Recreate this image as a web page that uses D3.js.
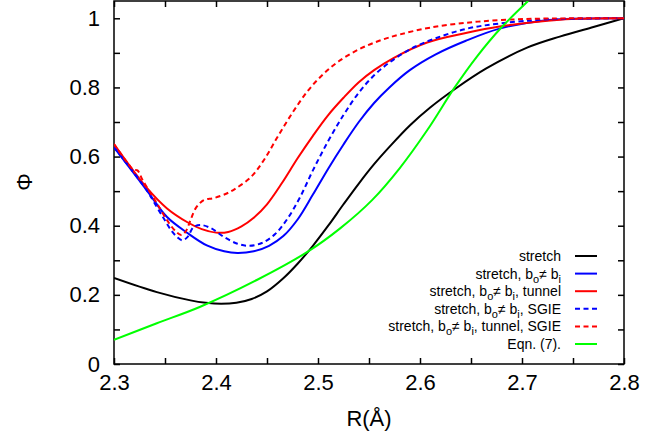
<!DOCTYPE html>
<html>
<head>
<meta charset="utf-8">
<script src="https://cdn.jsdelivr.net/npm/d3@7"></script>
<style>
body { margin: 0; background: #fff; }
svg { font-family: "Liberation Sans", Arial, sans-serif; }
.axis text { font-size: 22px; fill: #000; }
.axis line, .axis path { stroke: #000; stroke-width: 1.5; }
.curve { fill: none; stroke-width: 2; }
.legend text { font-size: 14px; fill: #000; }
</style>
</head>
<body>
<div id="chart"></div>
<script>
// curves: [R, Phi]
var stretch = [[2.30,0.249],[2.342,0.208],[2.375,0.184],[2.39,0.177],[2.405,0.174],[2.42,0.177],
    [2.435,0.188],[2.45,0.21],[2.466,0.248],[2.48,0.29],[2.495,0.342],[2.51,0.40],[2.525,0.462],
    [2.54,0.522],[2.555,0.578],[2.57,0.628],[2.59,0.69],[2.61,0.742],[2.635,0.797],[2.665,0.855],
    [2.705,0.915],[2.737,0.947],[2.77,0.975],[2.8,1.0]];
var stretchB = [[2.30,0.627],[2.332,0.503],[2.352,0.425],[2.372,0.379],[2.391,0.343],[2.408,0.326],
    [2.421,0.321],[2.437,0.326],[2.452,0.342],[2.466,0.37],[2.48,0.418],[2.495,0.49],[2.51,0.565],
    [2.525,0.635],[2.54,0.70],[2.555,0.755],[2.57,0.80],[2.59,0.85],[2.615,0.895],[2.645,0.935],
    [2.678,0.97],[2.72,0.993],[2.76,0.999],[2.8,1.0]];
var stretchBTunnel = [[2.30,0.636],[2.332,0.51],[2.352,0.45],[2.372,0.41],[2.386,0.39],[2.40,0.38],
    [2.412,0.382],[2.425,0.398],[2.437,0.423],[2.45,0.462],[2.465,0.525],[2.48,0.595],[2.495,0.66],
    [2.51,0.72],[2.525,0.77],[2.54,0.815],[2.555,0.85],[2.574,0.885],[2.607,0.93],[2.646,0.958],
    [2.678,0.976],[2.737,0.996],[2.8,1.0]];
var stretchBSgie = [[2.30,0.627],[2.332,0.503],[2.342,0.454],[2.349,0.42],[2.356,0.387],[2.362,0.367],
    [2.367,0.358],[2.372,0.367],[2.378,0.396],[2.385,0.402],[2.395,0.393],[2.408,0.367],[2.421,0.348],
    [2.432,0.342],[2.445,0.35],[2.458,0.376],[2.47,0.42],[2.482,0.48],[2.495,0.56],[2.51,0.645],
    [2.525,0.72],[2.54,0.785],[2.555,0.835],[2.57,0.872],[2.59,0.91],[2.615,0.942],[2.646,0.97],
    [2.678,0.985],[2.727,0.997],[2.8,1.0]];
var stretchBTunnelSgie = [[2.30,0.636],[2.315,0.575],[2.319,0.562],[2.323,0.56],[2.328,0.532],
    [2.342,0.465],[2.352,0.416],[2.361,0.382],[2.366,0.373],[2.37,0.382],[2.375,0.416],[2.38,0.45],
    [2.388,0.474],[2.398,0.48],[2.411,0.494],[2.42,0.509],[2.434,0.54],[2.447,0.59],[2.46,0.655],
    [2.475,0.727],[2.49,0.79],[2.505,0.838],[2.52,0.875],[2.54,0.91],[2.56,0.935],[2.58,0.953],
    [2.61,0.973],[2.645,0.987],[2.68,0.995],[2.72,0.999],[2.8,1.0]];
var eqn7 = [[2.30,0.07],[2.342,0.118],[2.384,0.165],[2.44,0.243],[2.49,0.325],[2.522,0.393],
    [2.553,0.474],[2.58,0.566],[2.607,0.676],[2.634,0.80],[2.656,0.89],[2.68,0.974],[2.706,1.05]];

var labels = ["stretch", "stretch, b_o≠ b_i", "stretch, b_o≠ b_i, tunnel",
    "stretch, b_o≠ b_i, SGIE", "stretch, b_o≠ b_i, tunnel, SGIE", "Eqn. (7)."];
var colors = ["#000000", "#0000ff", "#ff0000", "#0000ff", "#ff0000", "#00ff00"];
var dashed = [false, false, false, true, true, false];
var series = [stretch, stretchB, stretchBTunnel, stretchBSgie, stretchBTunnelSgie, eqn7];

var xTicks = [2.3, 2.35, 2.4, 2.45, 2.5, 2.55, 2.6, 2.65, 2.7, 2.75, 2.8];
var yTicks = [0, 0.1, 0.2, 0.3, 0.4, 0.5, 0.6, 0.7, 0.8, 0.9, 1.0];

var width = 646, height = 435;
var plotLeft = 114, plotRight = 624, plotTop = 1, plotBottom = 364;

var svg = d3.select("#chart").append("svg")
    .attr("width", width)
    .attr("height", height);

var xScale = d3.scaleLinear().domain([2.3, 2.8]).range([plotLeft, plotRight]);
var yScale = d3.scaleLinear().domain([0, 1.05]).range([plotBottom, plotTop]);

svg.append("defs").append("clipPath").attr("id", "clip")
    .append("rect")
    .attr("x", plotLeft).attr("y", plotTop)
    .attr("width", plotRight - plotLeft).attr("height", plotBottom - plotTop);

// axes, ticks pointing inwards on all four sides
var fmtX = function(d) { return Math.round(d * 100) % 10 === 0 ? d3.format(".1f")(d) : ""; };
var fmtY = function(d) {
    var k = Math.round(d * 10);
    if (k % 2 !== 0) return "";
    return k === 0 ? "0" : k === 10 ? "1" : d3.format(".1f")(d);
};

svg.append("g").attr("class", "axis")
    .attr("transform", "translate(0," + plotBottom + ")")
    .call(d3.axisBottom(xScale).tickValues(xTicks).tickFormat(fmtX).tickSize(-6).tickSizeOuter(0).tickPadding(10));
svg.append("g").attr("class", "axis")
    .attr("transform", "translate(0," + plotTop + ")")
    .call(d3.axisTop(xScale).tickValues(xTicks).tickFormat("").tickSize(-6).tickSizeOuter(0));
svg.append("g").attr("class", "axis")
    .attr("transform", "translate(" + plotLeft + ",0)")
    .call(d3.axisLeft(yScale).tickValues(yTicks).tickFormat(fmtY).tickSize(-6).tickSizeOuter(0).tickPadding(14));
svg.append("g").attr("class", "axis")
    .attr("transform", "translate(" + plotRight + ",0)")
    .call(d3.axisRight(yScale).tickValues(yTicks).tickFormat("").tickSize(-6).tickSizeOuter(0));

svg.selectAll(".axis .domain").remove();
svg.append("rect")
    .attr("x", plotLeft).attr("y", plotTop)
    .attr("width", plotRight - plotLeft).attr("height", plotBottom - plotTop)
    .attr("fill", "none").attr("stroke", "#000").attr("stroke-width", 1.5);

var line = d3.line()
    .x(function(d) { return xScale(d[0]); })
    .y(function(d) { return yScale(d[1]); })
    .curve(d3.curveCatmullRom.alpha(0.5));

svg.append("g").attr("clip-path", "url(#clip)")
    .selectAll("path")
    .data(series)
    .enter().append("path")
    .attr("class", "curve")
    .attr("d", line)
    .attr("stroke", function(d, i) { return colors[i]; })
    .attr("stroke-dasharray", function(d, i) { return dashed[i] ? "5,3.5" : null; });

// legend, subscripts as lowered tspans
var legend = svg.append("g").attr("class", "legend");
labels.forEach(function(lab, i) {
    var yy = 256 + i * 17.6;
    var t = legend.append("text")
        .attr("x", 561).attr("y", yy + 5)
        .attr("text-anchor", "end");
    var parts = lab.split(/(_[oi])/);
    var shift = 0;
    parts.forEach(function(p) {
        if (p === "") return;
        if (p.charAt(0) === "_") {
            t.append("tspan").attr("dy", 4 - shift).attr("font-size", "11px").text(p.charAt(1));
            shift = 4;
        } else {
            t.append("tspan").attr("dy", -shift).text(p);
            shift = 0;
        }
    });
    legend.append("line")
        .attr("x1", 575).attr("x2", 597)
        .attr("y1", yy).attr("y2", yy)
        .attr("stroke", colors[i]).attr("stroke-width", 2)
        .attr("stroke-dasharray", dashed[i] ? "5,3.5" : null);
});

// axis titles
svg.append("text")
    .attr("x", 369).attr("y", 418).attr("dy", "0.35em")
    .attr("text-anchor", "middle")
    .style("font-size", "22px")
    .text("R(Å)");

svg.append("text")
    .attr("transform", "translate(24,182) rotate(-90)")
    .attr("dy", "0.35em")
    .attr("text-anchor", "middle")
    .style("font-size", "22px")
    .text("Φ");
</script>
</body>
</html>
